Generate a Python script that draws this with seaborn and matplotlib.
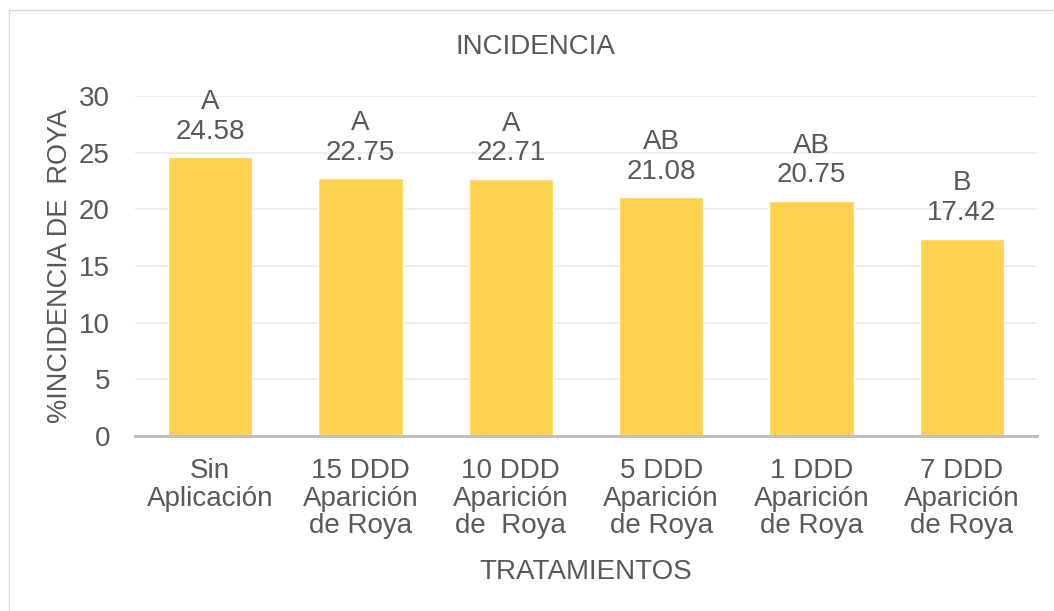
import matplotlib
matplotlib.use("Agg")
import matplotlib.pyplot as plt
import seaborn as sns
import pandas as pd
from matplotlib.patches import Rectangle

# data
tratamientos = ["Sin\nAplicación", "15 DDD\nAparición\nde Roya", "10 DDD\nAparición\nde  Roya",
                "5 DDD\nAparición\nde Roya", "1 DDD\nAparición\nde Roya", "7 DDD\nAparición\nde Roya"]
incidencia = [24.58, 22.75, 22.71, 21.08, 20.75, 17.42]
letras = ["A", "A", "A", "AB", "AB", "B"]

df = pd.DataFrame({"trat": tratamientos, "inc": incidencia})

sns.set_style("white")
plt.rcParams['font.family'] = ['Liberation Sans', 'DejaVu Sans']
gris = "#595959"
fs = 20

fig = plt.figure(figsize=(10.54, 6.11), dpi=100)
ax = fig.add_axes([135/1054, 1 - 436/611, 902/1054, 340/611])

sns.barplot(data=df, x="trat", y="inc", color="#FFD34F", saturation=1, width=0.56, ax=ax, zorder=2)

# letras y valores sobre las barras
for i, (v, l) in enumerate(zip(incidencia, letras)):
    ax.annotate(f"{l}\n{v:.2f}", (i, v), xytext=(0, 9), textcoords="offset points",
                ha="center", va="bottom", fontsize=fs, color=gris, linespacing=1.18)

ax.set_ylim(0, 30)
ax.set_xlim(-0.5, 5.5)
ax.set_yticks(range(0, 31, 5))
ax.yaxis.grid(True, color="#EBEBEB", linewidth=1.2, zorder=0)
ax.set_axisbelow(True)
for s in ["top", "right", "left"]:
    ax.spines[s].set_visible(False)
ax.spines["bottom"].set_color("#BFBFBF")
ax.spines["bottom"].set_linewidth(2.2)
ax.tick_params(axis="both", length=0, labelsize=fs, colors=gris)
ax.tick_params(axis="x", pad=16)
ax.tick_params(axis="y", pad=18)
for t in ax.get_xticklabels():
    t.set_linespacing(1.08)

ax.set_xlabel("TRATAMIENTOS", fontsize=fs, color=gris, labelpad=14)
ax.set_ylabel("%INCIDENCIA DE  ROYA", fontsize=19.5, color=gris, labelpad=4)
fig.text(535/1054, 1 - 47/611, "INCIDENCIA", ha="center", va="center", fontsize=fs, color=gris)

# borde del grafico
fig.patches.append(Rectangle((9/1054, -0.05), 1.1, 1 - 10/611 + 0.05, transform=fig.transFigure,
                             fill=False, edgecolor="#D9D9D9", linewidth=1))

fig.savefig("out.png", dpi=100)
